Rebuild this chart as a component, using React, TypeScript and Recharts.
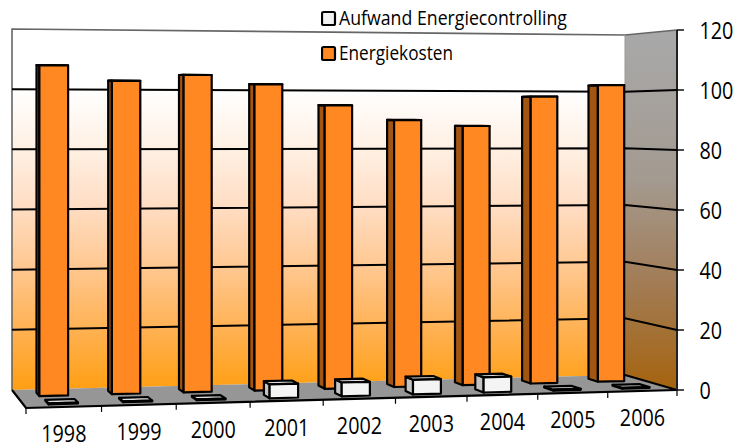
import React from 'react';
import { ComposedChart, Bar, XAxis, YAxis, CartesianGrid, Legend, Customized } from 'recharts';

const categories = ['1998', '1999', '2000', '2001', '2002', '2003', '2004', '2005', '2006'];
const energiekosten = [108, 103, 105, 102, 95, 90, 88, 98, 102];
const aufwand = [0.3, 0.3, 0.3, 4.5, 4.5, 4.8, 5, 0.3, 0.3];
const yTicks = [0, 20, 40, 60, 80, 100, 120];
const seriesNames = ['Aufwand Energiecontrolling', 'Energiekosten'];

const data = categories.map((year, i) => ({ year, energiekosten: energiekosten[i], aufwand: aufwand[i] }));

const W = 744, H = 443;
const PL = 26, PR = 677, PT = 29, PB = 389;
const PW = PR - PL, PH = PB - PT;
const FONT = '"Open Sans", "Noto Sans", sans-serif';

// perspective frame of the 3D box: floor corners and wall heights
const C = {
  fl: [26, 408, 381], fr: [677, 390, 360], br: [625, 375, 340], bl: [12, 390, 361],
};
const G = 0.05;
const warp = (u: number) => (u * (1 + G)) / (1 + G * u);
const bil = (a: number, b: number, c: number, e: number, u: number, d: number) =>
  (1 - d) * ((1 - u) * a + u * b) + d * ((1 - u) * e + u * c);
function project(u0: number, d: number, h: number): [number, number] {
  const u = warp(u0);
  const x = bil(C.fl[0], C.fr[0], C.br[0], C.bl[0], u, d);
  const y = bil(C.fl[1], C.fr[1], C.br[1], C.bl[1], u, d);
  const hh = bil(C.fl[2], C.fr[2], C.br[2], C.bl[2], u, d);
  return [x, y - h * hh];
}
const pts = (list: [number, number][]) => list.map((p) => `${p[0].toFixed(1)},${p[1].toFixed(1)}`).join(' ');

function Walls() {
  return (
    <g>
      <defs>
        <linearGradient id="wall" gradientUnits="userSpaceOnUse" x1="0" y1="90" x2="0" y2="388">
          <stop offset="0" stopColor="#ffffff" />
          <stop offset="0.2" stopColor="#fff0e3" />
          <stop offset="0.4" stopColor="#ffdcc1" />
          <stop offset="0.6" stopColor="#ffc78f" />
          <stop offset="0.8" stopColor="#ffb254" />
          <stop offset="1" stopColor="#ff9f14" />
        </linearGradient>
        <linearGradient id="side" gradientUnits="userSpaceOnUse" x1="0" y1="40" x2="0" y2="388">
          <stop offset="0" stopColor="#a8a8a8" />
          <stop offset="0.4" stopColor="#a39a90" />
          <stop offset="0.7" stopColor="#a27c55" />
          <stop offset="1" stopColor="#a5640f" />
        </linearGradient>
      </defs>
      <polygon points={pts([project(0, 1, 1), project(1, 1, 1), project(1, 1, 0), project(0, 1, 0)])} fill="url(#wall)" />
      <polygon points={pts([project(1, 1, 1), project(1, 0, 1), project(1, 0, 0), project(1, 1, 0)])} fill="url(#side)" />
      <polygon points={pts([project(0, 0, 0), project(1, 0, 0), project(1, 1, 0), project(0, 1, 0)])} fill="#969696" />
      <polyline points={pts([project(0, 1, 0), project(0, 1, 1), project(1, 1, 1), project(1, 0, 1)])} fill="none" stroke="#666" strokeWidth={1.6} />
      <line x1={project(1, 1, 0)[0]} y1={project(1, 1, 0)[1]} x2={project(1, 1, 1)[0]} y2={project(1, 1, 1)[1]} stroke="#999" strokeWidth={1} />
      <polyline points={pts([project(0, 1, 0), project(0, 0, 0), project(1, 0, 0), project(1, 1, 0)])} fill="none" stroke="#000" strokeWidth={2.2} />
      <polyline points={pts([project(1, 0, 0), project(1, 0, 1)])} fill="none" stroke="#222" strokeWidth={2} />
    </g>
  );
}

function gridLine(p: any) {
  const h = (PB - p.y1) / PH;
  if (h < 0.01 || h > 0.99) return <g key={p.key ?? p.index} />;
  return (
    <polyline
      key={p.key ?? p.index}
      points={pts([project(0, 1, h), project(1, 1, h), project(1, 0, h)])}
      fill="none"
      stroke="#000"
      strokeWidth={2}
    />
  );
}

function makeBar(d0: number, d1: number, shift: number, front: string, side: string, top: string) {
  return function BarShape(p: any) {
    const u0 = (p.x + shift - PL) / PW;
    const u1 = (p.x + shift + p.width - PL) / PW;
    const h = p.height / PH;
    const a = project(u0, d0, 0), b = project(u1, d0, 0), c = project(u1, d0, h), e = project(u0, d0, h);
    const f = project(u0, d1, 0), g = project(u0, d1, h), i = project(u1, d1, h);
    return (
      <g stroke="#000" strokeWidth={2.2} strokeLinejoin="round">
        <polygon points={pts([a, e, g, f])} fill={side} />
        <polygon points={pts([e, c, i, g])} fill={top} />
        <polygon points={pts([a, b, c, e])} fill={front} />
      </g>
    );
  };
}
const OrangeBar = makeBar(0.63, 0.82, 0, '#ff8822', '#a35611', '#d87a20');
const WhiteBar = makeBar(0.17, 0.37, 2, '#f4f4f4', '#c4c4c4', '#dedede');

function Digits(p: { x: number; y: number; text: string; rot?: number; anchor: string }) {
  const len = p.text.length * 11.3;
  const x = p.anchor === 'middle' ? p.x - len / 2 : p.x;
  return (
    <text
      x={x}
      y={p.y}
      fontFamily={FONT}
      fontSize={24}
      fill="#000"
      textLength={len}
      lengthAdjust="spacingAndGlyphs"
      transform={p.rot ? `rotate(${p.rot} ${p.x} ${p.y})` : undefined}
    >
      {p.text}
    </text>
  );
}

function XTick(p: any) {
  const band = PW / categories.length;
  const u = (p.x - PL) / PW;
  const ul = (p.x - band / 2 - PL) / PW;
  const ur = (p.x + band / 2 - PL) / PW;
  const l = project(ul, 0, 0), r = project(ur, 0, 0), c = project(u, 0, 0);
  const isLast = p.index === categories.length - 1;
  return (
    <g>
      <line x1={l[0]} y1={l[1]} x2={l[0]} y2={l[1] + 6} stroke="#000" strokeWidth={1.2} />
      {isLast && <line x1={r[0]} y1={r[1]} x2={r[0]} y2={r[1] + 6} stroke="#000" strokeWidth={1.2} />}
      <Digits x={c[0]} y={c[1] + 35.5} text={String(p.payload.value)} anchor="middle" />
    </g>
  );
}

function YTick(p: any) {
  const h = (PB - p.y) / PH;
  const q = project(1, 0, h);
  return (
    <g>
      <line x1={q[0]} y1={q[1]} x2={q[0] + 7} y2={q[1]} stroke="#000" strokeWidth={1.4} />
      <Digits x={699.5} y={q[1] + 8.5} text={String(p.payload.value)} anchor="start" />
    </g>
  );
}

function LegendBox() {
  const rows = [
    { name: seriesNames[0], fill: '#f2f2f2', len: 228, y: 12 },
    { name: seriesNames[1], fill: '#ff8822', len: 114, y: 47 },
  ];
  return (
    <svg width={260} height={70} style={{ display: 'block', position: 'absolute', left: 0, top: 0 }}>
      {rows.map((r) => (
        <g key={r.name}>
          <rect x={1} y={r.y} width={13} height={13} rx={1.5} fill={r.fill} stroke="#000" strokeWidth={2.2} />
          <text x={18} y={r.y + 13} fontFamily={FONT} fontSize={20} fill="#000" textLength={r.len} lengthAdjust="spacingAndGlyphs">
            {r.name}
          </text>
        </g>
      ))}
    </svg>
  );
}

export default function App() {
  return (
    <div style={{ position: 'absolute', left: 0, top: 0, width: W, height: H, background: '#fff' }}>
      <ComposedChart
        width={W}
        height={H}
        data={data}
        margin={{ left: PL, right: W - PR - 60, top: PT, bottom: H - PB - 34 }}
        barCategoryGap={0}
      >
        <Customized component={Walls} />
        <XAxis xAxisId="a" dataKey="year" height={34} tick={XTick as any} tickLine={false} axisLine={false} interval={0} />
        <XAxis xAxisId="b" dataKey="year" hide />
        <YAxis orientation="right" width={60} domain={[0, 120]} ticks={yTicks} tick={YTick as any} tickLine={false} axisLine={false} interval={0} />
        <CartesianGrid {...({ zIndex: 100 } as any)} xAxisId="a" vertical={false} horizontal={gridLine as any} />
        <Legend
          content={LegendBox as any}
          wrapperStyle={{ position: 'absolute', left: 321, top: 0, right: 'auto', bottom: 'auto', width: 0, height: 0, overflow: 'visible' }}
        />
        <Bar xAxisId="b" dataKey="energiekosten" name={seriesNames[1]} barSize={28.5} shape={OrangeBar as any} isAnimationActive={false} />
        <Bar xAxisId="a" dataKey="aufwand" name={seriesNames[0]} barSize={28.5} shape={WhiteBar as any} isAnimationActive={false} />
      </ComposedChart>
    </div>
  );
}
